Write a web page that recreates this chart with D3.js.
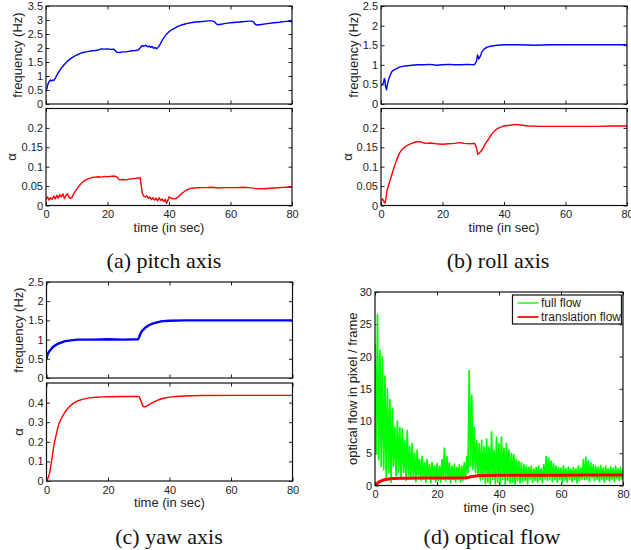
<!DOCTYPE html>
<html>
<head>
<meta charset="utf-8">
<script src="https://cdn.jsdelivr.net/npm/d3@7"></script>
<style>
  body { margin: 0; background: #fff; }
  svg { display: block; }
  .tick text { font-family: "Liberation Sans", Arial, sans-serif; font-size: 11px; fill: #222; }
  .lab { font-family: "Liberation Sans", Arial, sans-serif; font-size: 13px; fill: #222; }
  .cap { font-family: "Liberation Serif", "Times New Roman", serif; font-size: 22px; fill: #111; }
</style>
</head>
<body>
<svg id="svg1"></svg>
<script>
// time axis, shared by every panel
var timeTicks = [0, 20, 40, 60, 80];

// (a) pitch axis
var pitchFreq = [[0,0.45],[0.3,0.55],[0.6,0.7],[1,0.8],[1.4,0.86],[1.8,0.82],[2.2,0.86],[2.6,0.84],[3,0.92],[3.5,1.02],[4,1.12],[4.5,1.2],[5,1.28],[5.5,1.35],[6,1.42],[7,1.53],[8,1.62],[9,1.69],[10,1.75],[11,1.8],[12,1.84],[13,1.86],[14,1.88],[15,1.9],[16,1.91],[17,1.93],[18,1.97],[19,1.96],[20,1.97],[21,1.95],[22,1.96],[22.6,1.9],[23,1.85],[24,1.84],[25,1.86],[26,1.86],[27,1.88],[28,1.9],[29,1.91],[30,1.93],[30.6,2.0],[31.2,2.08],[32,2.07],[32.5,2.1],[33,2.04],[33.5,2.07],[34,2.02],[34.5,2.06],[35,1.99],[35.5,2.02],[36,1.97],[36.6,2.04],[37.2,2.15],[38,2.32],[39,2.47],[40,2.58],[41,2.66],[42,2.72],[43,2.78],[44,2.82],[45,2.85],[46,2.88],[47,2.9],[48,2.92],[50,2.94],[52,2.96],[53,2.97],[54,2.97],[54.8,2.94],[55.4,2.86],[56,2.83],[57,2.85],[58,2.87],[59,2.89],[60,2.9],[62,2.92],[64,2.94],[66,2.96],[67,2.96],[67.6,2.92],[68.1,2.84],[69,2.82],[70,2.84],[72,2.87],[74,2.9],[76,2.92],[78,2.95],[79,2.96],[80,2.93]];
var pitchAlpha = [[0,0.015],[0.5,0.022],[1,0.014],[1.5,0.02],[2,0.016],[2.5,0.024],[3,0.017],[3.5,0.026],[4,0.019],[4.5,0.028],[5,0.022],[5.5,0.03],[6,0.018],[6.5,0.026],[7,0.03],[7.5,0.021],[8,0.018],[8.5,0.022],[9,0.03],[10,0.042],[11,0.053],[12,0.061],[13,0.066],[14,0.07],[15,0.072],[16,0.073],[17,0.074],[18,0.073],[19,0.075],[20,0.074],[21,0.075],[22,0.076],[23,0.074],[23.6,0.068],[24,0.066],[25,0.067],[26,0.066],[27,0.068],[28,0.069],[29,0.07],[30,0.071],[30.6,0.072],[31,0.05],[31.3,0.032],[31.8,0.024],[32.3,0.022],[32.8,0.025],[33.3,0.018],[33.8,0.022],[34.3,0.015],[34.8,0.02],[35.3,0.014],[35.8,0.019],[36.3,0.012],[36.8,0.02],[37.3,0.013],[37.8,0.017],[38.3,0.01],[38.8,0.016],[39.2,0.006],[39.6,0.012],[40,0.022],[40.5,0.02],[41,0.018],[42,0.017],[43,0.022],[44,0.03],[45,0.036],[46,0.041],[47,0.044],[48,0.045],[50,0.046],[52,0.046],[54,0.047],[56,0.045],[58,0.046],[60,0.046],[62,0.046],[64,0.047],[66,0.046],[68,0.044],[70,0.043],[72,0.044],[74,0.045],[76,0.046],[78,0.047],[80,0.047]];

// (b) roll axis
var rollFreq = [[0,0.48],[0.4,0.5],[0.8,0.54],[1.1,0.65],[1.3,0.6],[1.5,0.45],[1.8,0.36],[2.1,0.5],[2.5,0.63],[3,0.74],[3.5,0.82],[4,0.86],[5,0.9],[6,0.94],[7,0.96],[8,0.97],[10,0.99],[12,1.0],[14,1.0],[16,1.01],[18,0.99],[20,1.0],[22,1.01],[24,1.0],[26,1.0],[28,1.01],[30,1.0],[30.6,1.02],[31,1.08],[31.4,1.25],[31.8,1.15],[32.3,1.22],[32.8,1.33],[33.5,1.4],[34.5,1.45],[36,1.48],[38,1.5],[40,1.51],[45,1.51],[50,1.5],[55,1.51],[60,1.51],[65,1.51],[70,1.51],[75,1.51],[80,1.51]];
var rollAlpha = [[0,0.012],[0.5,0.017],[1,0.009],[1.3,0.006],[1.6,0.018],[2,0.04],[3,0.066],[4,0.092],[5,0.115],[6,0.135],[7,0.146],[8,0.152],[9,0.157],[10,0.16],[11,0.163],[12,0.165],[13,0.164],[14,0.161],[15,0.16],[16,0.161],[18,0.159],[20,0.158],[22,0.159],[24,0.16],[25.5,0.162],[27,0.16],[29,0.159],[30.5,0.16],[31,0.15],[31.5,0.132],[32,0.135],[33,0.145],[34,0.16],[35,0.172],[36,0.184],[37,0.193],[38,0.199],[40,0.205],[42,0.207],[44,0.209],[46,0.207],[48,0.205],[52,0.204],[56,0.204],[60,0.204],[65,0.204],[70,0.204],[75,0.205],[80,0.205]];

// (c) yaw axis
var yawFreq = [[0,0.5],[0.3,0.6],[0.6,0.66],[1,0.7],[1.5,0.75],[2,0.8],[3,0.86],[4,0.9],[5,0.93],[6,0.96],[8,0.98],[10,1.0],[12,1.0],[15,1.0],[20,1.01],[25,1.0],[29.8,1.01],[30.2,1.08],[30.6,1.16],[31,1.22],[32,1.3],[33,1.36],[34,1.4],[35,1.43],[36,1.45],[37,1.47],[38,1.48],[40,1.49],[45,1.5],[50,1.5],[60,1.5],[70,1.5],[80,1.5]];
var yawAlpha = [[0,0.003],[0.5,0.015],[1,0.04],[1.5,0.085],[2,0.14],[2.5,0.19],[3,0.225],[3.5,0.26],[4,0.29],[5,0.325],[6,0.352],[7,0.372],[8,0.387],[9,0.4],[10,0.408],[12,0.418],[14,0.424],[16,0.427],[18,0.429],[20,0.43],[25,0.431],[29.8,0.432],[30.2,0.428],[30.8,0.405],[31.4,0.38],[32,0.378],[33,0.386],[34,0.396],[35,0.404],[36,0.411],[37,0.417],[38,0.422],[40,0.428],[42,0.431],[45,0.434],[50,0.436],[60,0.437],[70,0.437],[80,0.437]];

// (d) optical flow: full flow sampled every 0.4 s, translation flow as points
var flowStep = 0.4;
var fullFlow = [
  22, 5, 26.5, 4, 21, 3, 20, 2.5, 17, 1,
  15, 2, 13.3, 0.5, 12, 3, 9, 1.5, 10, 2,
  9, 1, 8.8, 2, 7, 0.8, 8.5, 1.5, 6, 1,
  6.5, 1.2, 5, 0.6, 5.5, 1.5, 4, 0.8, 4.5, 1,
  3.5, 0.5, 4, 1.2, 3.2, 0.4, 3.6, 1, 3, 0.6,
  3.4, 0.8, 3, 0.5, 4, 1, 5.8, 0.7, 4.5, 1,
  3.5, 0.4, 3, 1, 3.3, 0.6, 2.8, 0.9, 3.2, 0.5,
  3, 0.8, 3.5, 1, 4.5, 2, 17.8, 3, 14, 2.5,
  9, 2, 7, 1.5, 6.5, 0.8, 7, 1, 6, 0.3,
  7.2, 0.5, 6, 0.2, 8.3, 1, 5.5, 0.3, 7.5, 0.5,
  6.5, 0.3, 7.5, 1, 5.8, 0.2, 6.5, 0.8, 5.5, 0.4,
  5, 0.5, 4.8, 0.2, 4, 0.8, 3.8, 0.4, 3.5, 0.6,
  3.2, 0.8, 3, 0.3, 2.8, 1, 3, 0.5, 2.6, 0.8,
  2.8, 0.5, 3, 0.9, 2.6, 0.4, 3.2, 1, 4.5, 0.8,
  4.3, 1, 3.8, 0.6, 3.4, 0.9, 3, 0.5, 2.8, 1,
  2.7, 0.4, 3, 0.8, 2.6, 0.5, 2.9, 1, 2.5, 0.6,
  2.8, 0.9, 2.6, 0.4, 3, 0.8, 2.7, 1, 4, 0.9,
  4.4, 1, 3.8, 0.6, 3.5, 1.2, 3.2, 0.7, 3, 1,
  2.8, 0.6, 3.1, 1, 2.7, 0.5, 3, 1, 2.6, 0.7,
  2.9, 1, 2.7, 0.6, 3, 1.1, 2.6, 0.8, 2.8, 1,
  2.5
];
var transFlow = [[0,0],[0.5,0.2],[1,0.45],[1.5,0.6],[2,0.7],[2.5,0.8],[3,0.9],[4,0.98],[5,1.05],[6,1.1],[8,1.12],[10,1.14],[15,1.15],[20,1.16],[25,1.18],[29,1.2],[30,1.25],[31,1.35],[32,1.45],[33,1.52],[35,1.56],[40,1.58],[50,1.6],[60,1.6],[70,1.62],[80,1.63]];
var legendNames = ["full flow", "translation flow"];

var freqTicks35 = [0, 0.5, 1, 1.5, 2, 2.5, 3, 3.5];
var freqTicks25 = [0, 0.5, 1, 1.5, 2, 2.5];
var alphaTicks02 = [0, 0.05, 0.1, 0.15, 0.2];
var alphaTicks04 = [0, 0.1, 0.2, 0.3, 0.4];
var flowTicks = [0, 5, 10, 15, 20, 25, 30];

var svg = d3.select("#svg1").attr("width", 631).attr("height", 550);
var fmt = function (d) { return String(+d.toFixed(2)); };
var clipId = 0;

// one MATLAB style box with inward ticks on all four sides
function panel(p) {
  var x = d3.scaleLinear().domain([0, 80]).range([p.x0, p.x1]);
  var y = d3.scaleLinear().domain(p.yDomain).range([p.y1, p.y0]);
  var g = svg.append("g");
  var tk = 3.5;

  g.append("g").attr("transform", "translate(" + p.x0 + ",0)")
    .call(d3.axisLeft(y).tickValues(p.yTicks).tickFormat(fmt).tickSizeInner(-tk).tickSizeOuter(0).tickPadding(3));
  g.append("g").attr("transform", "translate(" + p.x1 + ",0)")
    .call(d3.axisRight(y).tickValues(p.yTicks).tickFormat("").tickSizeInner(-tk).tickSizeOuter(0));
  g.append("g").attr("transform", "translate(0," + p.y1 + ")")
    .call(d3.axisBottom(x).tickValues(timeTicks).tickFormat(p.showX ? fmt : "").tickSizeInner(-tk).tickSizeOuter(0).tickPadding(5));
  g.append("g").attr("transform", "translate(0," + p.y0 + ")")
    .call(d3.axisTop(x).tickValues(timeTicks).tickFormat("").tickSizeInner(-tk).tickSizeOuter(0));
  g.selectAll(".domain").remove();
  g.selectAll(".tick line").attr("stroke", "#222");
  g.selectAll(".tick text").attr("font-size", null).attr("font-family", null);

  var id = "clip" + (clipId++);
  g.append("clipPath").attr("id", id).append("rect")
    .attr("x", p.x0).attr("y", p.y0).attr("width", p.x1 - p.x0).attr("height", p.y1 - p.y0);
  var plot = g.append("g").attr("clip-path", "url(#" + id + ")");

  g.append("rect").attr("x", p.x0).attr("y", p.y0)
    .attr("width", p.x1 - p.x0).attr("height", p.y1 - p.y0)
    .attr("fill", "none").attr("stroke", "#111").attr("stroke-width", 1.2);

  g.append("text").attr("class", "lab")
    .attr("transform", "translate(" + p.labX + "," + (p.y0 + p.y1) / 2 + ") rotate(-90)")
    .attr("text-anchor", "middle").attr("dy", "0.35em").text(p.ylab);

  if (p.showX) {
    g.append("text").attr("class", "lab")
      .attr("x", (p.x0 + p.x1) / 2).attr("y", p.y1 + 26)
      .attr("text-anchor", "middle").text("time (in sec)");
  }
  return { x: x, y: y, plot: plot };
}

function drawLine(pn, data, color, w) {
  var line = d3.line().x(function (d) { return pn.x(d[0]); }).y(function (d) { return pn.y(d[1]); });
  pn.plot.append("path").datum(data).attr("d", line)
    .attr("fill", "none").attr("stroke", color).attr("stroke-width", w).attr("stroke-linejoin", "round");
}

// (a)
var aTop = panel({ x0: 46, x1: 292, y0: 6, y1: 104, yDomain: [0, 3.5], yTicks: freqTicks35, ylab: "frequency (Hz)", labX: 17, showX: false });
drawLine(aTop, pitchFreq, "#0000ff", 1.4);
var aBot = panel({ x0: 46, x1: 292, y0: 108.5, y1: 205.5, yDomain: [0, 0.25], yTicks: alphaTicks02, ylab: "α", labX: 11, showX: true });
drawLine(aBot, pitchAlpha, "#ff0000", 1.4);

// (b)
var bTop = panel({ x0: 381, x1: 627, y0: 6, y1: 104, yDomain: [0, 2.5], yTicks: freqTicks25, ylab: "frequency (Hz)", labX: 353, showX: false });
drawLine(bTop, rollFreq, "#0000ff", 1.4);
var bBot = panel({ x0: 381, x1: 627, y0: 108.5, y1: 205.5, yDomain: [0, 0.25], yTicks: alphaTicks02, ylab: "α", labX: 347, showX: true });
drawLine(bBot, rollAlpha, "#ff0000", 1.4);

// (c)
var cTop = panel({ x0: 46.5, x1: 292.5, y0: 282, y1: 378, yDomain: [0, 2.5], yTicks: freqTicks25, ylab: "frequency (Hz)", labX: 18, showX: false });
drawLine(cTop, yawFreq, "#0000ff", 2.4);
var cBot = panel({ x0: 46.5, x1: 292.5, y0: 383, y1: 481, yDomain: [0, 0.5], yTicks: alphaTicks04, ylab: "α", labX: 18, showX: true });
drawLine(cBot, yawAlpha, "#ff0000", 1.4);

// (d)
var dPan = panel({ x0: 375, x1: 623, y0: 292, y1: 485.5, yDomain: [0, 30], yTicks: flowTicks, ylab: "optical flow in pixel / frame", labX: 352, showX: true });
drawLine(dPan, fullFlow.map(function (v, i) { return [i * flowStep, v]; }), "#00ff00", 1.7);
drawLine(dPan, transFlow, "#ff0000", 3);

// legend of (d)
var lg = svg.append("g").attr("transform", "translate(512.5,295)");
lg.append("rect").attr("width", 109).attr("height", 29)
  .attr("fill", "#fff").attr("stroke", "#111").attr("stroke-width", 1.2);
legendNames.forEach(function (name, i) {
  var yy = 8 + i * 14;
  lg.append("line").attr("x1", 5).attr("x2", 26).attr("y1", yy).attr("y2", yy)
    .attr("stroke", i === 0 ? "#55ff55" : "#ff2020").attr("stroke-width", 2);
  lg.append("text").attr("class", "lab").attr("x", 28.5).attr("y", yy).attr("dy", "0.35em")
    .style("font-size", "12px").text(name);
});

// captions
var captions = [["(a) pitch axis", 164, 268], ["(b) roll axis", 498, 268], ["(c) yaw axis", 169, 544], ["(d) optical flow", 492, 544]];
svg.selectAll(".cap").data(captions).enter().append("text")
  .attr("class", "cap").attr("text-anchor", "middle")
  .attr("x", function (d) { return d[1]; }).attr("y", function (d) { return d[2]; })
  .text(function (d) { return d[0]; });
</script>
</body>
</html>
